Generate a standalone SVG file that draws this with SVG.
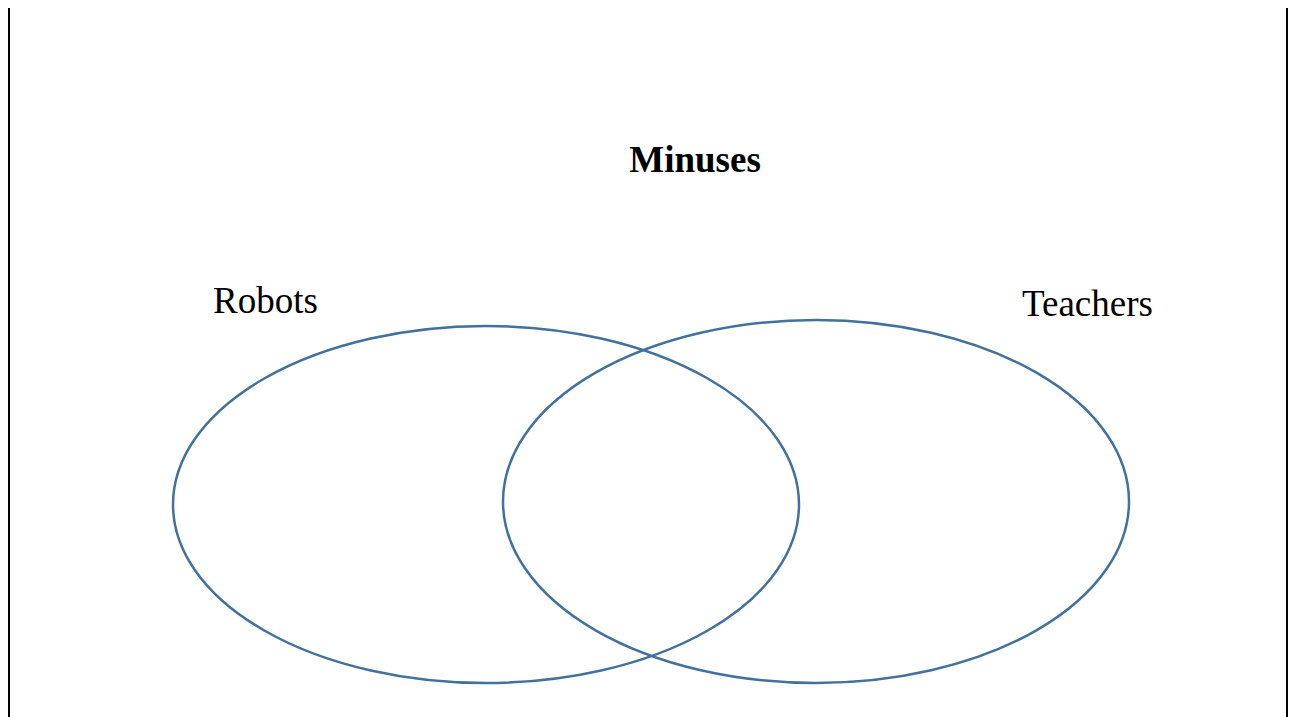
<svg xmlns="http://www.w3.org/2000/svg" width="1293" height="717" viewBox="0 0 1293 717">
<style>
.t{font-family:"Liberation Serif","Times New Roman",serif;font-size:37px;fill:#000}
.b{font-weight:bold}
.set{fill:none;stroke:#41719C;stroke-width:2.5}
.edge{stroke:#000;stroke-width:2}
</style>
<rect width="1293" height="717" fill="#fff"/>
<g id="borders">
<line class="edge" x1="9" y1="8" x2="9" y2="717"/>
<line class="edge" x1="1287" y1="8" x2="1287" y2="717"/>
</g>
<g id="title"><text class="t b" x="695" y="172" text-anchor="middle">Minuses</text></g>
<g id="robots">
<ellipse class="set" cx="486" cy="504.5" rx="313" ry="178.5"/>
<text class="t" x="213" y="313">Robots</text>
</g>
<g id="teachers">
<ellipse class="set" cx="816" cy="501.5" rx="313" ry="181.5"/>
<text class="t" x="1022" y="316">Teachers</text>
</g>
<g id="connectors"></g>
</svg>
